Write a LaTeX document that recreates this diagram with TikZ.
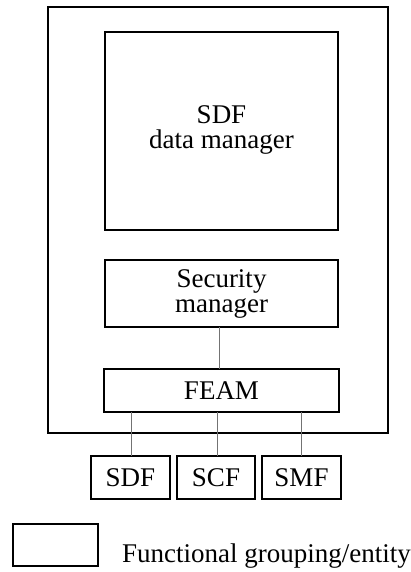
\documentclass[tikz,border=0pt]{standalone}
\usepackage{fontspec}
\setmainfont{Liberation Serif}
\begin{document}
\begin{tikzpicture}[x=1pt,y=-1pt,
  box/.style={draw=black,line width=1.4pt,inner sep=0pt},
  link/.style={draw=black!55,line width=1pt},
  lbl/.style={font=\fontsize{27}{25}\selectfont,align=center}]
\useasboundingbox (0,0) rectangle (411,572);
% enclosing entity
\draw[line width=1.8pt] (48,7) rectangle (388,433);
% inner functional blocks
\draw[box] (105,32) rectangle (338,230);
\node[lbl] (dm) at (221.5,130) {SDF\\data manager};
\draw[box] (105,260) rectangle (338,327);
\node[lbl] (sec) at (221.5,294) {Security\\manager};
\coordinate (secb) at (219,327);
\draw[box] (104,369) rectangle (339,412);
\node[lbl] (feam) at (221.5,390.5) {FEAM};
\coordinate (feamt) at (219,369);
\draw[link] (secb) -- (feamt);
% external functions
\draw[box] (91,456) rectangle (170,499);
\node[lbl] (sdf) at (130.5,477.5) {SDF};
\draw[box] (177,456) rectangle (255,499);
\node[lbl] (scf) at (216,477.5) {SCF};
\draw[box] (262,456) rectangle (341,499);
\node[lbl] (smf) at (301.5,477.5) {SMF};
\coordinate (sdft) at (131,456);
\coordinate (scft) at (217,456);
\coordinate (smft) at (301,456);
\coordinate (feamsdf) at (131,412);
\coordinate (feamscf) at (217,412);
\coordinate (feamsmf) at (301,412);
\draw[link] (sdft) -- (feamsdf);
\draw[link] (scft) -- (feamscf);
\draw[link] (smft) -- (feamsmf);
% legend
\draw[box] (13,524) rectangle (98,566);
\node[lbl,anchor=base west,inner sep=0pt] (leg) at (122,562) {Functional grouping/entity};
\end{tikzpicture}
\end{document}
